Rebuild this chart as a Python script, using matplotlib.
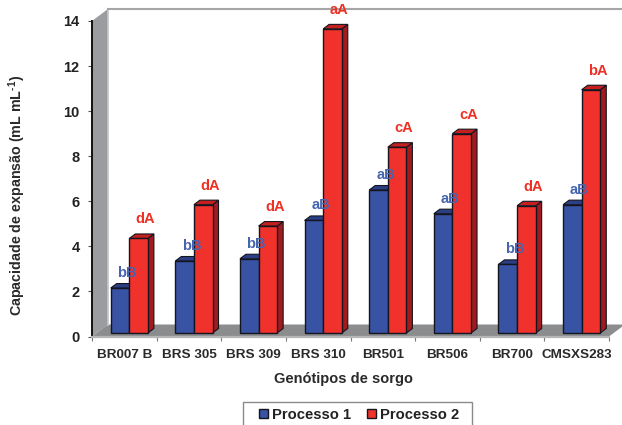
import matplotlib
matplotlib.use("Agg")
import matplotlib.pyplot as plt
from matplotlib.patches import Polygon, Patch, Rectangle

genotypes = ["BR007 B", "BRS 305", "BRS 309", "BRS 310", "BR501", "BR506", "BR700", "CMSXS283"]
processo_1 = [2.15, 3.35, 3.45, 5.15, 6.5, 5.45, 3.2, 5.85]
processo_2 = [4.35, 5.85, 4.9, 13.65, 8.4, 9.0, 5.8, 10.95]
labels_1 = ["bB", "bB", "bB", "aB", "aB", "aB", "bB", "aB"]
labels_2 = ["dA", "dA", "dA", "aA", "cA", "cA", "dA", "bA"]
y_ticks = [0, 2, 4, 6, 8, 10, 12, 14]

W, H = 622, 425
X0, X1 = 92, 609
Y0, Y14 = 336.5, 21
UX = (X1 - X0) / 8
UY = (Y0 - Y14) / 14
WALL_DX, WALL_DY = 16 / UX, 12 / UY
BAR_DX, BAR_DY = 6 / UX, 4.5 / UY
BAR_W = 18.6 / UX
BAR_START = 18.7 / UX
BAR_BASE = 3.5 / UY

BLUE = "#3953a4"
BLUE_TOP = "#2b3f86"
RED = "#f1312c"
RED_TOP = "#c5201f"
RED_SIDE = "#a01a1e"
EDGE = "#15151f"


def draw_bar(ax, x, value, face, top, side):
	ax.add_patch(Polygon([(x + BAR_W, BAR_BASE), (x + BAR_W + BAR_DX, BAR_BASE + BAR_DY),
		(x + BAR_W + BAR_DX, value + BAR_DY), (x + BAR_W, value)],
		facecolor=side, edgecolor=EDGE, lw=0.8, zorder=3, clip_on=False))
	ax.add_patch(Polygon([(x, value), (x + BAR_DX, value + BAR_DY),
		(x + BAR_W + BAR_DX, value + BAR_DY), (x + BAR_W, value)],
		facecolor=top, edgecolor=EDGE, lw=0.8, zorder=3, clip_on=False))
	ax.bar(x, value - BAR_BASE, BAR_W, bottom=BAR_BASE, align="edge", color=face,
		edgecolor=EDGE, lw=1.0, zorder=4, clip_on=False)


def main():
	plt.rcParams["font.family"] = ["Liberation Sans", "DejaVu Sans"]
	plt.rcParams["font.weight"] = "bold"
	plt.rcParams["mathtext.fontset"] = "custom"
	plt.rcParams["mathtext.rm"] = "Liberation Sans:bold"
	plt.rcParams["mathtext.default"] = "rm"
	fig = plt.figure(figsize=(W / 100, H / 100), dpi=100)
	ax = fig.add_axes([X0 / W, 1 - Y0 / H, (X1 - X0) / W, (Y0 - Y14) / H])
	ax.set_xlim(0, 8)
	ax.set_ylim(0, 14)
	ax.patch.set_alpha(0)

	# walls and floor
	ax.add_patch(Polygon([(0, 0), (WALL_DX, WALL_DY), (WALL_DX, 14 + WALL_DY), (0, 14)],
		facecolor="#9a9ca0", edgecolor="none", zorder=1, clip_on=False))
	ax.add_patch(Polygon([(0, 0), (WALL_DX, WALL_DY), (8 + WALL_DX, WALL_DY), (8, 0)],
		facecolor="#8b8c8e", edgecolor="none", zorder=1, clip_on=False))
	ax.plot([WALL_DX, WALL_DX], [WALL_DY, 14 + WALL_DY], color="#c4c6c8", lw=1.2, zorder=1, clip_on=False)
	ax.plot([WALL_DX, 8 + WALL_DX], [14 + WALL_DY, 14 + WALL_DY], color="#a4a6a8", lw=1.5, zorder=1, clip_on=False)

	for i in range(8):
		x = i + BAR_START
		draw_bar(ax, x, processo_1[i], BLUE, BLUE_TOP, BLUE_TOP)
		draw_bar(ax, x + BAR_W, processo_2[i], RED, RED_TOP, RED_SIDE)
		ax.annotate(labels_1[i], (x + BAR_W / 2, processo_1[i]), xytext=(7, 15), textcoords="offset pixels",
			ha="center", va="center", color="#4565b0", fontsize=10.5, zorder=6, annotation_clip=False)
		ax.annotate(labels_2[i], (x + BAR_W * 1.5, processo_2[i]), xytext=(7, 19), textcoords="offset pixels",
			ha="center", va="center", color="#ee3124", fontsize=10.5, zorder=6, annotation_clip=False)

	ax.spines["top"].set_visible(False)
	ax.spines["right"].set_visible(False)
	ax.spines["left"].set_color("#111111")
	ax.spines["left"].set_linewidth(1.4)
	ax.spines["bottom"].set_color("#b4b6b8")
	ax.spines["bottom"].set_linewidth(1.6)
	ax.set_yticks(y_ticks)
	ax.tick_params(axis="y", length=3, width=0.8, color="#555555", labelsize=10.5, pad=6, labelcolor="#222222")
	ax.set_xticks(range(9))
	ax.set_xticklabels([])
	ax.tick_params(axis="x", length=3, width=0.8, color="#777777")
	for i, name in enumerate(genotypes):
		ax.annotate(name, (i + 0.5, 0), xytext=(0, -18), textcoords="offset pixels", ha="center", va="center",
			fontsize=9.7, color="#2a2a2a", annotation_clip=False)

	fig.text(17 / W, 1 - 195.5 / H, "Capacidade de expansão (mL mL$^{\\text{-1}}$)", rotation=90,
		ha="center", va="center", fontsize=10.3, color="#2a2a2a")
	fig.text(344 / W, 1 - 379 / H, "Genótipos de sorgo", ha="center", va="center", fontsize=10.5, color="#2a2a2a")

	# legend box runs past the bottom of the picture
	fig.add_artist(Rectangle((243.5 / W, -10 / H), 228 / W, (H - 402 + 10) / H, transform=fig.transFigure,
		facecolor="white", edgecolor="#8a8a8a", lw=1.0))
	handles = [Patch(facecolor=BLUE, edgecolor=EDGE, label="Processo 1"),
		Patch(facecolor=RED, edgecolor=EDGE, label="Processo 2")]
	leg = fig.legend(handles=handles, loc="center", bbox_to_anchor=(359 / W, 1 - 415 / H), ncol=2, frameon=False,
		fontsize=10.6, handlelength=0.6, handleheight=0.6, handletextpad=0.25, columnspacing=1.1,
		borderpad=0, borderaxespad=0)
	for text in leg.get_texts():
		text.set_color("#222222")

	fig.savefig("out.png", dpi=100)


if __name__ == "__main__":
	main()
